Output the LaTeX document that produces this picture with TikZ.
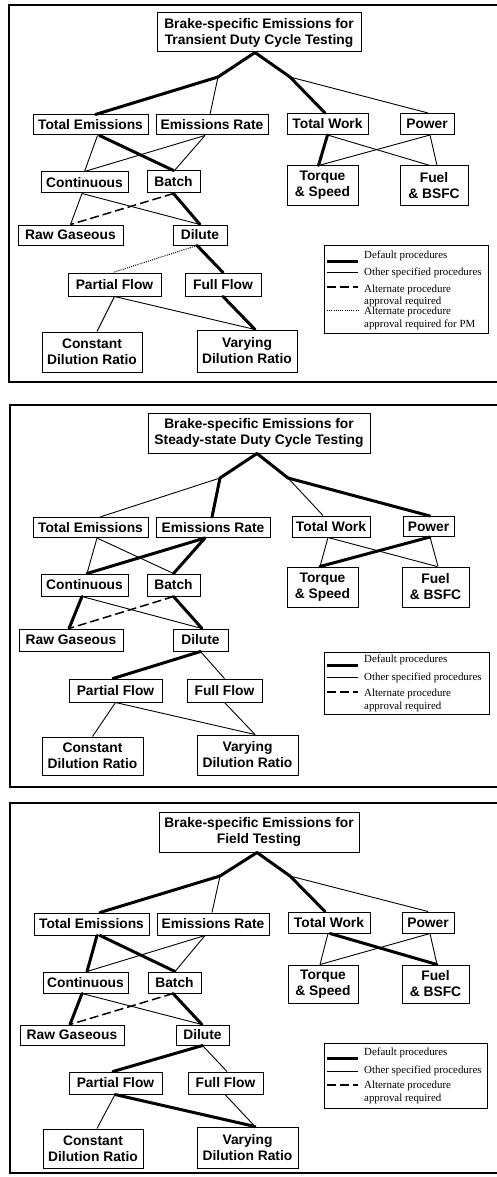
\documentclass[tikz,border=0pt]{standalone}
\usepackage{fontspec}
\newfontfamily\boxfont{Liberation Sans}
\newfontfamily\legfont{Liberation Serif}
\begin{document}
\begin{tikzpicture}[x=1pt,y=-1pt,
  box/.style={draw, line width=1pt, inner sep=0pt, align=center,
    font={\boxfont\bfseries\fontsize{13.8}{16}\selectfont}},
  legbox/.style={draw, line width=1pt, inner sep=0pt},
  legtxt/.style={anchor=west, inner sep=0pt, align=left,
    font={\legfont\fontsize{10.9}{12.3}\selectfont}},
  frame/.style={line width=1.6pt},
  thk/.style={line width=3pt, line cap=round},
  thn/.style={line width=0.9pt},
  dsh/.style={line width=1.5pt, dash pattern=on 9pt off 4pt},
  dtd/.style={line width=1pt, dash pattern=on 1pt off 1.2pt}]
\useasboundingbox (0,0) rectangle (497,1177);
\fill[white] (0,0) rectangle (497,1177);

% ---------------- frames ----------------
\draw[frame] (497,5) -- (9,5) -- (9,382) -- (497,382);
\draw[frame] (497,405) -- (10,405) -- (10,787) -- (497,787);
\draw[frame] (497,803) -- (10,803) -- (10,1173) -- (497,1173);

% ================= PANEL 1 =================
\node[box, minimum width=204, minimum height=39] (t1) at (259,32.5) {Brake-specific Emissions for\\Transient Duty Cycle Testing};
\node[box, minimum width=115, minimum height=20] (te1) at (90.5,125) {Total Emissions};
\node[box, minimum width=112, minimum height=20] (er1) at (212,125) {Emissions Rate};
\node[box, minimum width=81, minimum height=21] (tw1) at (327.5,124) {Total Work};
\node[box, minimum width=54, minimum height=21] (pw1) at (427,124) {Power};
\node[box, minimum width=87, minimum height=21] (co1) at (84.5,182.5) {Continuous};
\node[box, minimum width=53, minimum height=22] (ba1) at (173.5,182) {Batch};
\node[box, minimum width=71, minimum height=39] (tq1) at (322.5,185.5) {Torque\\\& Speed};
\node[box, minimum width=68, minimum height=39] (fu1) at (434,185.5) {Fuel\\\& BSFC};
\node[box, minimum width=105, minimum height=20] (rg1) at (70.5,235) {Raw Gaseous};
\node[box, minimum width=54, minimum height=20] (di1) at (200,235) {Dilute};
\node[box, minimum width=93, minimum height=23] (pf1) at (114.5,284.5) {Partial Flow};
\node[box, minimum width=76, minimum height=23] (ff1) at (223,284.5) {Full Flow};
\node[box, minimum width=100, minimum height=40] (cd1) at (92,352) {Constant\\Dilution Ratio};
\node[box, minimum width=100, minimum height=42] (vd1) at (247,351) {Varying\\Dilution Ratio};
\coordinate (ap1) at ([xshift=-4]t1.south);
\coordinate (jl1) at (218,77);
\coordinate (jr1) at (290,77);

\draw[thk] (ap1) -- (jl1);
\draw[thk] (jl1) -- ([xshift=5]te1.north);
\draw[thn] (jl1) -- ([xshift=-2]er1.north);
\draw[thk] (ap1) -- (jr1);
\draw[thk] (jr1) -- ([xshift=-2.5]tw1.north);
\draw[thn] (jr1) -- ([xshift=1]pw1.north);
\draw[thn] ([xshift=7]te1.south) -- (co1.north);
\draw[thk] ([xshift=9]te1.south) -- (ba1.north);
\draw[thn] ([xshift=-7]er1.south) -- (co1.north);
\draw[thn] ([xshift=-7]er1.south) -- ([xshift=1]ba1.north);
\draw[thk] (tw1.south) -- ([xshift=-4]tq1.north);
\draw[thn] (tw1.south) -- ([xshift=-4]fu1.north);
\draw[thn] ([xshift=3]pw1.south) -- ([xshift=-4]tq1.north);
\draw[thn] ([xshift=3]pw1.south) -- ([xshift=3]fu1.north);
\draw[thn] ([xshift=-2.5]co1.south) -- (rg1.north);
\draw[thn] ([xshift=-2.5]co1.south) -- (di1.north);
\draw[dsh] (ba1.south) -- (rg1.north);
\draw[thk] (ba1.south) -- (di1.north);
\draw[dtd] ([xshift=-3]di1.south) -- ([xshift=-1.5]pf1.north);
\draw[thk] ([xshift=-3]di1.south) -- (ff1.north);
\draw[thn] (pf1.south) -- ([xshift=5]cd1.north);
\draw[thn] (pf1.south) -- ([xshift=8]vd1.north);
\draw[thk] (ff1.south) -- ([xshift=8]vd1.north);

% legend 1
\node[legbox, minimum width=164, minimum height=88] (lg1) at (406,289) {};
\draw[line width=3pt] (327,261) -- (358,261);
\node[legtxt] (lg1a) at (364,256) {Default procedures};
\draw[thn] (327,272) -- (358,272);
\node[legtxt] (lg1b) at (364,273) {Other specified procedures};
\draw[dsh] (327,287) -- (358,287);
\node[legtxt] (lg1c) at (364,296) {Alternate procedure\\approval required};
\draw[dtd] (327,310) -- (358,310);
\node[legtxt] (lg1d) at (364,318.5) {Alternate procedure\\approval required for PM};

% ================= PANEL 2 =================
\node[box, minimum width=222, minimum height=40] (t2) at (259,433) {Brake-specific Emissions for\\Steady-state Duty Cycle Testing};
\node[box, minimum width=115, minimum height=20] (te2) at (90.5,527.5) {Total Emissions};
\node[box, minimum width=114, minimum height=20] (er2) at (213,527.5) {Emissions Rate};
\node[box, minimum width=78, minimum height=21] (tw2) at (331,526.5) {Total Work};
\node[box, minimum width=51, minimum height=20] (pw2) at (428.5,526.5) {Power};
\node[box, minimum width=87, minimum height=22] (co2) at (84.5,585) {Continuous};
\node[box, minimum width=53, minimum height=22] (ba2) at (173.5,585) {Batch};
\node[box, minimum width=71, minimum height=40] (tq2) at (322.5,587) {Torque\\\& Speed};
\node[box, minimum width=67, minimum height=40] (fu2) at (435.5,587) {Fuel\\\& BSFC};
\node[box, minimum width=104, minimum height=22] (rg2) at (71,640) {Raw Gaseous};
\node[box, minimum width=55, minimum height=22] (di2) at (200.5,640) {Dilute};
\node[box, minimum width=93, minimum height=23] (pf2) at (115.5,690.5) {Partial Flow};
\node[box, minimum width=75, minimum height=23] (ff2) at (224.5,690.5) {Full Flow};
\node[box, minimum width=101, minimum height=38] (cd2) at (92.5,756) {Constant\\Dilution Ratio};
\node[box, minimum width=101, minimum height=40] (vd2) at (247.5,755) {Varying\\Dilution Ratio};
\coordinate (ap2) at ([xshift=-2]t2.south);
\coordinate (jl2) at (220,478);
\coordinate (jr2) at (288,478);

\draw[thk] (ap2) -- (jl2);
\draw[thn] (jl2) -- ([xshift=9.5]te2.north);
\draw[thk] (jl2) -- ([xshift=-1]er2.north);
\draw[thk] (ap2) -- (jr2);
\draw[thn] (jr2) -- ([xshift=-8]tw2.north);
\draw[thk] (jr2) -- ([xshift=1.5]pw2.north);
\draw[thn] ([xshift=6.5]te2.south) -- ([xshift=2.5]co2.north);
\draw[thn] ([xshift=6.5]te2.south) -- (ba2.north);
\draw[thk] ([xshift=-8]er2.south) -- ([xshift=2.5]co2.north);
\draw[thk] ([xshift=-8]er2.south) -- (ba2.north);
\draw[thn] ([xshift=-3]tw2.south) -- ([xshift=-2.5]tq2.north);
\draw[thn] ([xshift=-3]tw2.south) -- ([xshift=1.5]fu2.north);
\draw[thk] ([xshift=1.5]pw2.south) -- ([xshift=-2.5]tq2.north);
\draw[thn] ([xshift=1.5]pw2.south) -- ([xshift=2.5]fu2.north);
\draw[thk] ([xshift=-2.5]co2.south) -- ([xshift=-2]rg2.north);
\draw[thn] ([xshift=-2.5]co2.south) -- ([xshift=1.5]di2.north);
\draw[dsh] (ba2.south) -- ([xshift=-2]rg2.north);
\draw[thk] (ba2.south) -- ([xshift=1.5]di2.north);
\draw[thk] (di2.south) -- ([xshift=-2.5]pf2.north);
\draw[thn] (di2.south) -- (ff2.north);
\draw[thn] (pf2.south) -- (cd2.north);
\draw[thn] (pf2.south) -- ([xshift=7.5]vd2.north);
\draw[thn] (ff2.south) -- ([xshift=7.5]vd2.north);

% legend 2
\node[legbox, minimum width=165, minimum height=62] (lg2) at (406.5,683) {};
\draw[line width=3pt] (327,665) -- (358,665);
\node[legtxt] (lg2a) at (364,660) {Default procedures};
\draw[thn] (327,677) -- (358,677);
\node[legtxt] (lg2b) at (364,678) {Other specified procedures};
\draw[dsh] (327,692) -- (358,692);
\node[legtxt] (lg2c) at (364,700.5) {Alternate procedure\\approval required};

% ================= PANEL 3 =================
\node[box, minimum width=200, minimum height=40] (t3) at (259,832) {Brake-specific Emissions for\\Field Testing};
\node[box, minimum width=115, minimum height=22] (te3) at (91.5,924) {Total Emissions};
\node[box, minimum width=112, minimum height=22] (er3) at (213,924) {Emissions Rate};
\node[box, minimum width=82, minimum height=21] (tw3) at (329,922.5) {Total Work};
\node[box, minimum width=52, minimum height=21] (pw3) at (428,922.5) {Power};
\node[box, minimum width=85, minimum height=21] (co3) at (85.5,982.5) {Continuous};
\node[box, minimum width=53, minimum height=21] (ba3) at (174.5,982.5) {Batch};
\node[box, minimum width=70, minimum height=38] (tq3) at (323,984) {Torque\\\& Speed};
\node[box, minimum width=67, minimum height=38] (fu3) at (435.5,984) {Fuel\\\& BSFC};
\node[box, minimum width=104, minimum height=20] (rg3) at (72,1035) {Raw Gaseous};
\node[box, minimum width=53, minimum height=20] (di3) at (202.5,1035) {Dilute};
\node[box, minimum width=93, minimum height=22] (pf3) at (115.5,1083) {Partial Flow};
\node[box, minimum width=75, minimum height=22] (ff3) at (225.5,1083) {Full Flow};
\node[box, minimum width=100, minimum height=39] (cd3) at (93,1148.5) {Constant\\Dilution Ratio};
\node[box, minimum width=101, minimum height=41] (vd3) at (247.5,1147.5) {Varying\\Dilution Ratio};
\coordinate (ap3) at ([xshift=-2]t3.south);
\coordinate (jl3) at (220,876);
\coordinate (jr3) at (290,876);

\draw[thk] (ap3) -- (jl3);
\draw[thk] (jl3) -- ([xshift=8.5]te3.north);
\draw[thn] (jl3) -- ([xshift=-1]er3.north);
\draw[thk] (ap3) -- (jr3);
\draw[thk] (jr3) -- ([xshift=-4]tw3.north);
\draw[thn] (jr3) -- (pw3.north);
\draw[thk] ([xshift=5.5]te3.south) -- ([xshift=1.5]co3.north);
\draw[thk] ([xshift=8.5]te3.south) -- ([xshift=0.5]ba3.north);
\draw[thn] ([xshift=-8]er3.south) -- ([xshift=1.5]co3.north);
\draw[thn] ([xshift=-8]er3.south) -- ([xshift=0.5]ba3.north);
\draw[thn] ([xshift=-1]tw3.south) -- ([xshift=-3]tq3.north);
\draw[thk] ([xshift=1]tw3.south) -- ([xshift=1.5]fu3.north);
\draw[thn] ([xshift=2]pw3.south) -- ([xshift=-3]tq3.north);
\draw[thn] ([xshift=2]pw3.south) -- ([xshift=1.5]fu3.north);
\draw[thk] ([xshift=-3.5]co3.south) -- ([xshift=-2]rg3.north);
\draw[thn] ([xshift=-3.5]co3.south) -- ([xshift=-0.5]di3.north);
\draw[dsh] ([xshift=-1.5]ba3.south) -- ([xshift=-2]rg3.north);
\draw[thk] ([xshift=-1.5]ba3.south) -- ([xshift=-0.5]di3.north);
\draw[thk] (di3.south) -- ([xshift=-2.5]pf3.north);
\draw[thn] (di3.south) -- ([xshift=1.5]ff3.north);
\draw[thn] ([xshift=-0.5]pf3.south) -- ([xshift=4]cd3.north);
\draw[thk] ([xshift=-0.5]pf3.south) -- ([xshift=7.5]vd3.north);
\draw[thn] ([xshift=-0.5]ff3.south) -- ([xshift=7.5]vd3.north);

% legend 3
\node[legbox, minimum width=163, minimum height=65] (lg3) at (405.5,1075.5) {};
\draw[line width=3pt] (327,1058) -- (358,1058);
\node[legtxt] (lg3a) at (364,1053) {Default procedures};
\draw[thn] (327,1071) -- (358,1071);
\node[legtxt] (lg3b) at (364,1071) {Other specified procedures};
\draw[dsh] (327,1085) -- (358,1085);
\node[legtxt] (lg3c) at (364,1092.5) {Alternate procedure\\approval required};
\end{tikzpicture}
\end{document}
